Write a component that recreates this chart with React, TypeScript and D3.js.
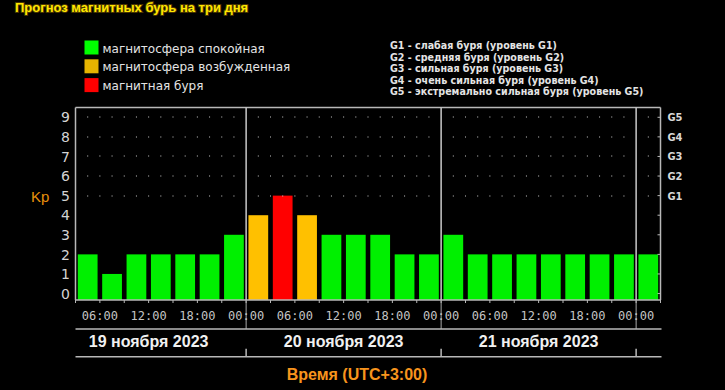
import * as d3 from "d3";

// прогноз Kp по трёхчасовым интервалам, начиная с 19.11.2023 03:00 (UTC+3)
const kpValues = [2, 1, 2, 2, 2, 2, 3, 4, 5, 4, 3, 3, 3, 2, 2, 3, 2, 2, 2, 2, 2, 2, 2, 2];
const dayLabels = ["19 ноября 2023", "20 ноября 2023", "21 ноября 2023"];
const yTicks = [0, 1, 2, 3, 4, 5, 6, 7, 8, 9];
const gLevels = ["G1", "G2", "G3", "G4", "G5"];
const gKp = [5, 6, 7, 8, 9];
const gDescriptions = [
  "G1 - слабая буря (уровень G1)",
  "G2 - средняя буря (уровень G2)",
  "G3 - сильная буря (уровень G3)",
  "G4 - очень сильная буря (уровень G4)",
  "G5 - экстремально сильная буря (уровень G5)",
];
const legendLabels = ["магнитосфера спокойная", "магнитосфера возбужденная", "магнитная буря"];
const legendColors = ["#00ff00", "#e6b400", "#ff0000"];

const START = Date.UTC(2023, 10, 19, 3);
const END = Date.UTC(2023, 10, 22, 3);
const HOUR = 3600 * 1000;

const SANS = "'Liberation Sans', Arial, sans-serif";
const DEJAVU = "'DejaVu Sans', sans-serif";
const MONO = "'DejaVu Sans Mono', monospace";
const COND = "'DejaVu Sans Condensed', 'DejaVu Sans', sans-serif";

const W = 725;
const H = 390;
const left = 75.5;
const right = 660.5;
const top = 107.5;
const axisY = 300;

const kpColor = (v: number) => (v >= 5 ? "#ff0000" : v >= 4 ? "#ffc000" : "#00f000");

export default function App() {
  const x = d3.scaleUtc().domain([START, END]).range([left, right]);
  const y = d3.scaleLinear().domain([-0.33, 9.5]).range([axisY, top]);

  // полосы по слотам
  const band = d3
    .scaleBand<number>()
    .domain(d3.range(kpValues.length))
    .range([left, right])
    .paddingInner(0.19)
    .paddingOuter(0.095);

  const slotTicks = d3.utcHour.every(3)!.range(START, END + 1);
  const labelTicks = d3.utcHour.every(6)!.range(START + 1, END + 1);
  const dayBounds = d3.utcDay.range(START, END + 1);
  const dayStarts = d3.utcDay.range(Date.UTC(2023, 10, 19), Date.UTC(2023, 10, 22));
  const fmt = d3.utcFormat("%H:%M");

  const dotXs = d3
    .range(1, 48)
    .map((i) => START + i * 1.5 * HOUR)
    .filter((t) => !dayBounds.some((d) => +d === t));

  const gray = "#b8b8b8";
  const lineY1 = 329;
  const lineY2 = 356.7;

  return (
    <div style={{ position: "absolute", left: 0, top: 0, width: W, height: H, background: "#000" }}>
      <svg width={W} height={H} style={{ display: "block", background: "#000" }}>
        {/* заголовок */}
        <text
          x={15}
          y={11.5}
          fontFamily={SANS}
          fontWeight="bold"
          fontSize={13}
          fill="#ffe600"
          stroke="#4a3600"
          strokeWidth={2}
          paintOrder="stroke"
        >
          Прогноз магнитных бурь на три дня
        </text>

        {/* легенда цветов */}
        {legendLabels.map((l, i) => (
          <g key={l}>
            <rect x={84.5} y={40.5 + i * 18.8} width={14} height={14} fill={legendColors[i]} />
            <text x={102.5} y={52.5 + i * 18.8} fontFamily={DEJAVU} fontSize={12} fill="#e4e4e4">
              {l}
            </text>
          </g>
        ))}

        {/* легенда уровней G */}
        {gDescriptions.map((t, i) => (
          <text
            key={t}
            x={390}
            y={49.3 + i * 11.5}
            fontFamily={COND}
            fontStretch="condensed"
            fontWeight="bold"
            fontSize={10.6}
            fill="#e4e4e4"
          >
            {t}
          </text>
        ))}

        {/* столбцы */}
        {kpValues.map((v, i) => (
          <rect
            key={i}
            x={band(i)}
            y={y(v)}
            width={band.bandwidth()}
            height={axisY - y(v)}
            fill={kpColor(v)}
          />
        ))}

        {/* точечная сетка 5..9 */}
        {gKp.map((k) =>
          dotXs.map((t) => (
            <rect key={k + "-" + t} x={x(t) - 0.5} y={Math.round(y(k)) - 0.5} width={1} height={1} fill="#c8c8c8" />
          ))
        )}

        {/* рамка */}
        <line x1={left} x2={right} y1={top} y2={top} stroke={gray} strokeWidth={1.5} />
        <line x1={left} x2={left} y1={top} y2={axisY} stroke={gray} strokeWidth={1.5} />
        <line x1={right} x2={right} y1={top} y2={axisY} stroke={gray} strokeWidth={1.5} />
        <line x1={left} x2={right} y1={axisY} y2={axisY} stroke={gray} strokeWidth={1.5} />

        {/* разделители суток */}
        {dayBounds.map((d) => (
          <g key={+d}>
            <line x1={x(d)} x2={x(d)} y1={top} y2={axisY} stroke="#c8c8c8" strokeWidth={1.5} />
            <line x1={x(d)} x2={x(d)} y1={axisY} y2={lineY1} stroke="#a8a8a8" strokeWidth={1} />
          </g>
        ))}

        {/* засечки по 3 часа */}
        {slotTicks.map((t) => (
          <line key={+t} x1={x(t)} x2={x(t)} y1={axisY} y2={axisY + 3} stroke={gray} strokeWidth={1} />
        ))}

        {/* засечки правой оси */}
        {yTicks.map((v) => (
          <line key={v} x1={right - 3} x2={right} y1={y(v)} y2={y(v)} stroke={gray} strokeWidth={1} />
        ))}

        {/* подписи оси Y */}
        {yTicks.map((v) => (
          <text key={v} x={65.5} y={y(v) + 5.2} textAnchor="middle" fontFamily={DEJAVU} fontSize={14} fill="#d4d4d4">
            {v}
          </text>
        ))}
        <text x={31} y={201.5} fontFamily={SANS} fontSize={15} fill="#e8900c">
          Kp
        </text>

        {/* подписи G справа */}
        {gLevels.map((g, i) => (
          <text
            key={g}
            x={667.5}
            y={y(gKp[i]) + 4}
            fontFamily={COND}
            fontStretch="condensed"
            fontWeight="bold"
            fontSize={11}
            fill="#d8d8d8"
          >
            {g}
          </text>
        ))}

        {/* подписи времени */}
        {labelTicks.map((t) => (
          <text key={+t} x={x(t)} y={319.5} textAnchor="middle" fontFamily={MONO} fontSize={12} fill="#c4c4c4">
            {fmt(t)}
          </text>
        ))}

        {/* линии под подписями */}
        <line x1={left} x2={right + 1} y1={lineY1} y2={lineY1} stroke={gray} strokeWidth={1.5} />
        <line x1={left} x2={right + 1} y1={lineY2} y2={lineY2} stroke={gray} strokeWidth={1.5} />
        {dayBounds.map((d) => (
          <line key={+d} x1={x(d)} x2={x(d)} y1={lineY2 - 8} y2={lineY2} stroke={gray} strokeWidth={1.5} />
        ))}

        {/* даты */}
        {dayStarts.map((d, i) => (
          <text
            key={+d}
            x={x(+d + 12 * HOUR)}
            y={347}
            textAnchor="middle"
            fontFamily={SANS}
            fontWeight="bold"
            fontSize={16}
            fill="#f0f0f0"
          >
            {dayLabels[i]}
          </text>
        ))}

        <text x={357} y={380} textAnchor="middle" fontFamily={SANS} fontWeight="bold" fontSize={16} fill="#f7941d">
          Время (UTC+3:00)
        </text>
      </svg>
    </div>
  );
}
